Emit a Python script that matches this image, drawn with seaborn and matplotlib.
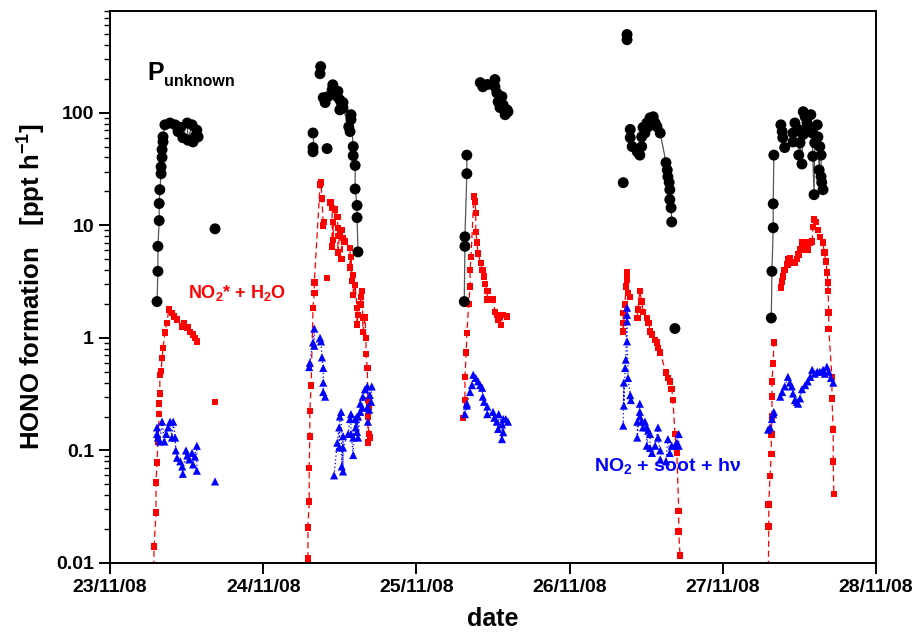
import numpy as np
import pandas as pd
import matplotlib
matplotlib.use("Agg")
import matplotlib.pyplot as plt
import matplotlib.dates as mdates
import matplotlib.ticker as mticker
import seaborn as sns

# ---------------------------------------------------------
# DATA  (hours after 23/11/08 00:00, HONO formation in ppt/h)
# ---------------------------------------------------------

START = pd.Timestamp("2008-11-23")

p_unknown_hours = [
    7.36, 7.5, 7.5, 7.7, 7.7, 7.8, 8.0, 8.0, 8.15, 8.15, 8.3, 8.3, 8.6, 9.4,
    10.2, 10.65, 11.0, 11.4, 12.1, 12.2, 12.85, 13.0, 13.3, 13.6, 13.8,
    31.8, 31.8, 31.8, 33.4, 33.7, 34.15, 34.8, 34.9, 35.25,
    35.6, 35.7, 36.0, 36.0, 36.3, 36.5, 36.5, 37.4, 37.6, 37.75, 37.75, 38.1,
    38.1, 38.4, 38.4, 38.7, 38.7, 38.85,
    55.5, 55.6, 55.6, 55.9, 55.9, 58.0, 58.4, 59.1, 60.3, 60.3, 60.6, 60.8,
    61.1, 61.4, 61.6, 61.9, 62.2, 62.35,
    81.5, 81.5, 81.8, 82.6, 83.0, 83.3, 83.3, 83.5, 83.8,
    84.1, 84.3, 84.6, 85.1, 85.4, 85.7, 86.2, 87.1, 87.3, 87.4, 87.6, 87.7,
    87.7, 87.9, 88.0,
    103.6, 103.7, 103.9, 103.9, 104.0, 105.1, 105.3, 105.4, 105.7, 107.0,
    107.0, 107.3, 107.8, 107.9, 108.1, 108.4, 108.6, 108.6, 108.9, 109.2,
    109.3, 109.8, 110.0, 110.1, 110.3, 110.4, 110.8, 110.9, 111.1, 111.2,
    111.4, 111.4, 111.5, 111.7,
]
p_unknown_values = [
    2.1, 3.9, 6.5, 11, 15.6, 20.7, 28.7, 33, 40, 47, 55, 61, 78, 81,
    78, 68, 74, 60, 81, 57, 78, 55, 61, 70, 61,
    45, 49, 66, 136, 123, 139, 160, 177, 151,
    139, 155, 130, 106, 118, 123, 110, 75, 68, 96, 87, 50,
    41.5, 34, 21, 15, 11.7, 5.8,
    2.1, 6.5, 7.9, 28.7, 42, 185, 170, 178, 197, 170, 150, 125,
    111, 139, 117, 96, 106, 102,
    71, 60, 50, 45, 42, 50, 61, 74, 66,
    81, 75, 90, 92, 81, 75, 66, 36, 31, 27, 24, 20.7,
    16.9, 14.3, 10.7,
    1.5, 3.9, 9.5, 15.5, 42, 78, 68, 60, 49, 66,
    55, 81, 71, 42, 54, 35, 102, 64, 92, 81,
    71, 96, 66, 41, 18.7, 54, 78, 61, 31, 50,
    42, 27, 24, 20.7,
]
# points without a connecting line
p_unknown_single_hours = [16.45, 32.9, 33.0, 34.0, 80.4, 81.0, 81.0, 88.5]
p_unknown_single_values = [9.3, 222, 257, 48, 23.9, 495, 445, 1.21]

no2_h2o_hours = [
    6.8, 6.9, 7.2, 7.2, 7.36, 7.5, 7.7, 7.7, 7.8, 7.8, 8.0, 8.15, 8.3, 8.6,
    8.9, 9.2, 9.7, 10.0, 10.5, 11.3, 11.6, 12.1, 12.5, 13.0, 13.3, 13.6, 16.45,
    31.0, 31.0, 31.2, 31.2, 31.3, 31.3, 31.5, 31.8, 32.0, 32.0, 32.9, 33.05,
    33.2, 33.4, 33.5, 34.5, 34.8, 34.8, 34.9, 34.9, 35.25, 35.6, 35.7,
    35.7, 35.7, 36.0, 36.3, 36.3, 36.5, 36.7, 37.6, 37.6, 37.75, 37.9, 38.1,
    38.1, 38.4, 38.7, 38.7, 38.85, 39.2, 39.3, 39.5, 39.6, 39.6, 39.95, 40.1,
    40.1, 40.3, 40.4, 40.4, 40.4, 40.6, 40.6, 40.7,
    55.3, 55.6, 55.6, 55.8, 55.9, 56.2, 56.4, 56.4, 56.55, 57.0, 57.2, 57.3,
    57.3, 57.5, 57.65, 58.1, 58.3, 58.4, 58.6, 58.75, 59.1, 59.1, 60.0, 60.3,
    60.6, 60.8, 61.1, 61.25, 61.6, 62.2,
    80.4, 80.4, 80.4, 80.7, 80.8, 81.0, 81.0, 81.0, 81.15, 81.5, 82.6, 82.7,
    83.0, 83.3, 83.5, 84.1, 84.4, 84.6, 84.9, 85.4, 85.7, 85.85, 86.2, 87.1,
    87.4, 87.7, 88.0, 88.2, 88.5, 88.8, 89.1, 89.1, 89.3,
    103.1, 103.2, 103.2, 103.4, 103.6, 103.6, 103.7, 103.7, 103.7, 103.9,
    104.0, 105.1, 105.3, 105.4, 105.7, 106.1, 106.2, 106.5, 107.0, 107.3,
    107.6, 107.9, 108.2, 108.4, 108.9, 109.3, 109.7, 110.0, 110.1, 110.3,
    110.6, 110.9, 111.2, 111.7, 111.9, 112.2, 112.3, 112.5, 112.5, 112.6,
    112.6, 113.1, 113.1, 113.3, 113.3, 113.4,
]
no2_h2o_values = [
    0.005, 0.014, 0.028, 0.052, 0.078, 0.12, 0.21, 0.26, 0.32, 0.47, 0.51, 0.66,
    0.81, 1.11, 1.36, 1.78, 1.66, 1.55, 1.45, 1.26, 1.36, 1.24, 1.13, 1.07, 1.0,
    0.93, 0.27,
    0.011, 0.0206, 0.035, 0.07, 0.133, 0.225, 0.377, 1.85, 2.5, 3.1, 23, 23.9,
    17.2, 10, 10.7, 15.9, 14.3, 6.5, 10.7, 7.4, 13.8, 11.9, 9.5,
    8.0, 5.7, 8.6, 9.1, 5.0, 7.7, 7.2, 6.3, 4.2, 5.2, 3.2, 3.6,
    2.4, 2.95, 1.85, 1.31, 1.6, 1.97, 2.3, 2.6, 1.51, 1.13, 1.51, 1.0,
    0.72, 0.54, 0.28, 0.2, 0.117, 0.245, 0.14, 0.13,
    0.195, 0.28, 0.45, 0.74, 1.1, 2.0, 2.85, 4.0, 5.2, 18, 16.2, 12.9,
    8.7, 7.0, 5.6, 4.6, 4.0, 4.0, 3.5, 3.0, 2.6, 2.2, 2.2, 1.7,
    1.6, 1.45, 1.55, 1.3, 1.6, 1.55,
    1.66, 1.36, 1.14, 1.97, 2.85, 3.8, 3.4, 3.3, 2.5, 2.3, 1.5, 1.78,
    2.6, 2.1, 1.7, 1.5, 1.36, 1.14, 1.07, 0.96, 0.91, 0.81, 0.74, 0.49,
    0.44, 0.41, 0.35, 0.28, 0.14, 0.095, 0.029, 0.019, 0.0117,
    0.005, 0.021, 0.033, 0.059, 0.093, 0.138, 0.2, 0.3, 0.41, 0.59,
    0.91, 2.8, 3.16, 3.5, 4.0, 4.5, 5.0, 5.1, 4.65, 4.65,
    5.0, 5.5, 6.1, 7.0, 7.0, 6.1, 7.0, 7.2, 9.7, 11.2,
    10.7, 9.1, 7.9, 7.0, 5.7, 4.75, 3.8, 3.1, 2.6, 1.68,
    1.2, 0.45, 0.29, 0.153, 0.08, 0.041,
]
no2_h2o_single_hours = [34.0]
no2_h2o_single_values = [3.4]

no2_soot_hours = [
    7.36, 7.36, 7.5, 7.8, 8.15, 8.5, 8.8, 9.1, 9.4, 9.7, 9.9, 10.2, 10.3,
    10.5, 11.0, 11.3, 11.4, 11.9, 12.1, 12.4, 12.85, 13.0, 13.3, 13.6, 13.6,
    16.45,
    31.2, 31.3, 31.8, 32.0, 32.0, 32.9, 33.05, 33.2, 33.4, 33.4, 33.4, 33.7,
    35.1, 35.6, 35.9, 35.9, 36.0, 36.2, 36.3, 36.5, 36.5, 36.5, 37.3, 37.6,
    37.75, 37.75, 38.1, 38.1, 38.4, 38.5, 38.7, 38.7, 38.85, 38.85, 39.2,
    39.2, 39.5, 39.6, 39.95, 40.3, 40.3, 40.4, 40.6, 40.7, 40.9, 41.0,
    55.6, 55.9, 55.9, 56.4, 56.7, 56.9, 57.3, 57.65, 58.0, 58.3, 58.4, 58.6,
    59.1, 59.1, 60.0, 60.2, 60.6, 60.8, 60.9, 61.4, 61.4, 61.6, 61.6, 62.0,
    62.35,
    80.4, 80.5, 80.5, 80.7, 80.8, 81.0, 81.0, 81.0, 81.0, 81.15, 81.5, 81.6,
    82.6, 82.6, 83.0, 83.0, 83.0, 83.3, 83.5, 83.8, 84.1, 84.1, 84.3, 84.6,
    84.6, 84.9, 85.4, 85.85, 85.85, 86.2, 86.2, 87.1, 87.4, 87.7, 88.0, 88.5,
    88.8, 89.1, 89.1,
    103.1, 103.4, 103.7, 103.9, 104.0, 105.0, 105.3, 105.7, 106.2, 106.5,
    106.8, 107.0, 107.3, 107.6, 107.8, 108.1, 108.4, 108.9, 109.3, 109.7,
    110.0, 110.4, 110.8, 111.2, 111.7, 112.0, 112.3, 112.6, 112.95, 113.3,
]
no2_soot_values = [
    0.16, 0.14, 0.13, 0.12, 0.18, 0.12, 0.14, 0.16, 0.18, 0.13, 0.18, 0.13, 0.1,
    0.086, 0.08, 0.072, 0.062, 0.1, 0.09, 0.083, 0.095, 0.075, 0.088, 0.11, 0.066,
    0.053,
    0.55, 0.6, 0.91, 1.21, 0.85, 1.0, 0.93, 0.67, 0.54, 0.4, 0.33, 0.3,
    0.06, 0.117, 0.16, 0.106, 0.2, 0.22, 0.072, 0.134, 0.065, 0.106, 0.14, 0.19,
    0.21, 0.14, 0.091, 0.13, 0.19, 0.16, 0.2, 0.146, 0.2, 0.13, 0.22,
    0.26, 0.24, 0.3, 0.35, 0.37, 0.24, 0.18, 0.23, 0.31, 0.27, 0.37,
    0.21, 0.26, 0.25, 0.33, 0.38, 0.47, 0.44, 0.41, 0.38, 0.36, 0.3, 0.27,
    0.245, 0.21, 0.22, 0.195, 0.18, 0.155, 0.21, 0.17, 0.126, 0.19, 0.145, 0.19,
    0.18,
    0.166, 0.4, 0.25, 0.54, 0.64, 1.85, 1.6, 1.4, 0.93, 0.44, 0.31, 0.28,
    0.18, 0.13, 0.26, 0.22, 0.2, 0.18, 0.16, 0.18, 0.16, 0.11, 0.15, 0.14,
    0.105, 0.095, 0.11, 0.16, 0.13, 0.1, 0.083, 0.08, 0.126, 0.095, 0.11, 0.11,
    0.117, 0.14, 0.11,
    0.153, 0.16, 0.19, 0.21, 0.22, 0.3, 0.33, 0.37, 0.45, 0.4,
    0.37, 0.32, 0.28, 0.27, 0.26, 0.29, 0.35, 0.38, 0.41, 0.45,
    0.52, 0.48, 0.5, 0.5, 0.52, 0.48, 0.555, 0.5, 0.44, 0.4,
]

# ---------------------------------------------------------
# HELPERS
# ---------------------------------------------------------

def make_frame(hours, values):
    df = pd.DataFrame({"hours": hours, "value": values})
    df = df.sort_values("hours", kind="stable").reset_index(drop=True)
    df["date"] = START + pd.to_timedelta(df["hours"], unit="h")
    # break the connecting line where measurements are missing
    df["run"] = (df["hours"].diff().fillna(0) > 0.9).cumsum()
    return df

df_unk = make_frame(p_unknown_hours, p_unknown_values)
df_unk_single = make_frame(p_unknown_single_hours, p_unknown_single_values)
df_h2o = make_frame(no2_h2o_hours, no2_h2o_values)
df_h2o_single = make_frame(no2_h2o_single_hours, no2_h2o_single_values)
df_soot = make_frame(no2_soot_hours, no2_soot_values)

# ---------------------------------------------------------
# STYLE
# ---------------------------------------------------------

sns.set_style("ticks")
plt.rcParams["font.family"] = ["Liberation Sans", "DejaVu Sans"]
plt.rcParams["font.weight"] = "bold"
plt.rcParams["mathtext.fontset"] = "custom"
plt.rcParams["mathtext.rm"] = "Liberation Sans:bold"
plt.rcParams["mathtext.bf"] = "Liberation Sans:bold"
plt.rcParams["mathtext.it"] = "Liberation Sans:bold"
plt.rcParams["axes.linewidth"] = 1.4
for key in ["text.color", "axes.labelcolor", "xtick.color", "ytick.color",
            "axes.edgecolor"]:
    plt.rcParams[key] = "black"

fig, ax = plt.subplots(figsize=(9.14, 6.34), dpi=100)
fig.subplots_adjust(left=0.1204, right=0.9584, top=0.9826, bottom=0.112)

# ---------------------------------------------------------
# LINES + MARKERS
# ---------------------------------------------------------

sns.lineplot(data=df_h2o, x="date", y="value", units="run", estimator=None,
             sort=False, color="red", lw=0.9, linestyle=(0, (5, 3)), ax=ax)
sns.lineplot(data=df_soot, x="date", y="value", units="run", estimator=None,
             sort=False, color="blue", lw=0.9, linestyle=(0, (1, 2)), ax=ax)
sns.lineplot(data=df_unk, x="date", y="value", units="run", estimator=None,
             sort=False, color="#555555", lw=0.9, ax=ax)

for df in [df_h2o, df_h2o_single]:
    sns.scatterplot(data=df, x="date", y="value", marker="s", s=22,
                    color="red", edgecolor="none", ax=ax, zorder=3)
sns.scatterplot(data=df_soot, x="date", y="value", marker="^", s=34,
                color="blue", edgecolor="none", ax=ax, zorder=3)
for df in [df_unk, df_unk_single]:
    sns.scatterplot(data=df, x="date", y="value", marker="o", s=62,
                    color="black", edgecolor="none", ax=ax, zorder=4)

# ---------------------------------------------------------
# AXES
# ---------------------------------------------------------

ax.set_yscale("log")
ax.set_ylim(0.01, 800)
ax.set_xlim(START, START + pd.Timedelta(days=5))

ax.xaxis.set_major_locator(mdates.DayLocator())
ax.xaxis.set_major_formatter(mdates.DateFormatter("%d/%m/%y"))
ax.yaxis.set_major_locator(mticker.FixedLocator([0.01, 0.1, 1, 10, 100]))
ax.yaxis.set_major_formatter(mticker.FuncFormatter(lambda v, _: f"{v:g}"))
ax.yaxis.set_minor_locator(mticker.LogLocator(base=10, subs=np.arange(2, 10)))
ax.yaxis.set_minor_formatter(mticker.NullFormatter())

ax.tick_params(axis="both", which="major", direction="out", length=8,
               width=1.4, labelsize=14, top=False, right=False)
ax.tick_params(axis="y", which="minor", direction="out", length=4,
               width=1.0, right=False)
for lab in ax.get_xticklabels() + ax.get_yticklabels():
    lab.set_fontweight("bold")

ax.set_xlabel("date", fontsize=18, fontweight="bold", labelpad=8)
ax.set_ylabel(r"HONO formation   [ppt h$^{-1}$]", fontsize=18.5,
              fontweight="bold", labelpad=6)

# ---------------------------------------------------------
# ANNOTATIONS
# ---------------------------------------------------------

p_pos = (START + pd.Timedelta(hours=5.8), 196)
ax.text(*p_pos, "P", fontsize=18, fontweight="bold", va="baseline", ha="left")
ax.annotate("unknown", xy=p_pos, xytext=(12.5, -4.5), textcoords="offset points",
            fontsize=11.5, fontweight="bold", va="baseline", ha="left")
ax.text(START + pd.Timedelta(hours=12.2), 2.5, r"NO$_2$* + H$_2$O",
        fontsize=13, color="red", fontweight="bold", va="center", ha="left")
ax.text(START + pd.Timedelta(hours=75.8), 0.072, r"NO$_2$ + soot + h$\nu$",
        fontsize=14, color="blue", fontweight="bold", va="center", ha="left")

plt.savefig("out.png", dpi=100)
